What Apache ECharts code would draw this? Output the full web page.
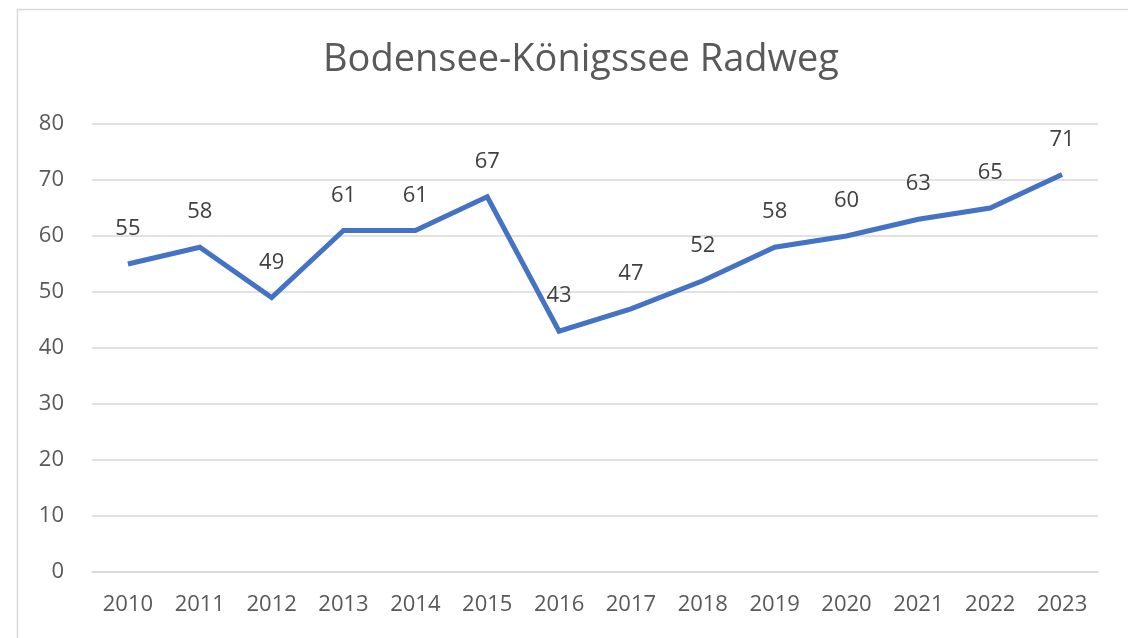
<!DOCTYPE html>
<html>
<head>
<meta charset="utf-8">
<script src="https://cdn.jsdelivr.net/npm/echarts@6/dist/echarts.min.js"></script>
<style>
  html, body { margin: 0; padding: 0; background: #fff; }
  #chart { width: 1128px; height: 638px; }
</style>
</head>
<body>
<div id="chart"></div>
<script>
const titleText = 'Bodensee-Königssee Radweg';
const years = ['2010', '2011', '2012', '2013', '2014', '2015', '2016',
  '2017', '2018', '2019', '2020', '2021', '2022', '2023'];
const values = [55, 58, 49, 61, 61, 67, 43, 47, 52, 58, 60, 63, 65, 71];

const font = '"Open Sans", "Liberation Sans", sans-serif';
const gridColor = '#d9d9d9';
const textColor = '#595959';

const myChart = echarts.init(document.getElementById('chart'), null, { renderer: 'canvas' });
myChart.setOption({
  animation: false,
  backgroundColor: '#fff',
  title: {
    text: titleText,
    left: 576,
    textAlign: 'center',
    top: 36,
    textStyle: {
      fontFamily: font,
      fontSize: 38,
      fontWeight: 'normal',
      color: textColor,
    },
  },
  // chart border (Excel frame, cropped on right / bottom)
  graphic: [{
    type: 'rect',
    shape: { x: 17.5, y: 9.5, width: 1300, height: 800 },
    style: { fill: 'none', stroke: gridColor, lineWidth: 1.5 },
    silent: true,
  }],
  grid: {
    left: 92,
    right: 30,
    top: 124,
    bottom: 66,
  },
  xAxis: {
    type: 'category',
    data: years,
    boundaryGap: true,
    axisLine: { show: true, lineStyle: { color: gridColor, width: 1.5 } },
    axisTick: { show: false },
    axisLabel: {
      fontFamily: font,
      fontSize: 22,
      color: textColor,
      margin: 22,
      interval: 0,
    },
  },
  yAxis: {
    type: 'value',
    min: 0,
    max: 80,
    interval: 10,
    axisLine: { show: false },
    axisTick: { show: false },
    axisLabel: {
      fontFamily: font,
      fontSize: 22,
      color: textColor,
      margin: 28,
    },
    splitLine: { lineStyle: { color: gridColor, width: 1.5 } },
  },
  series: [{
    type: 'line',
    data: values,
    symbol: 'circle',
    symbolSize: 0,
    showSymbol: true,
    itemStyle: { color: '#4472c4' },
    lineStyle: { color: '#4472c4', width: 5, join: 'miter' },
    label: {
      show: true,
      position: 'top',
      distance: 24,
      fontFamily: font,
      fontSize: 22,
      color: '#404040',
    },
  }],
});
</script>
</body>
</html>
